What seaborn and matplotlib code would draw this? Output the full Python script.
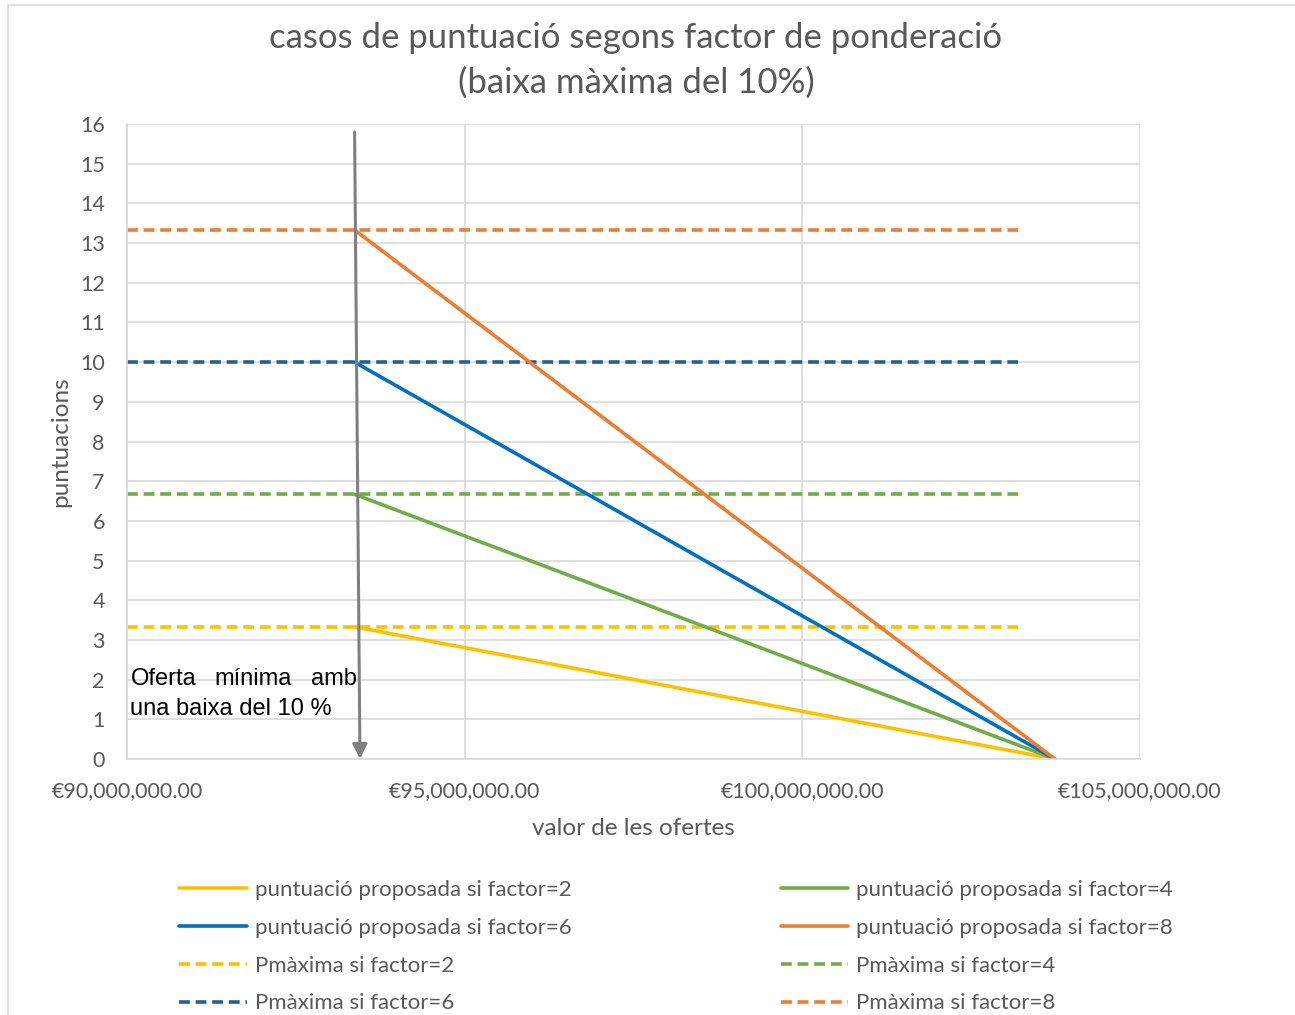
import seaborn as sns
import matplotlib.pyplot as plt
import pandas as pd
from matplotlib.ticker import FuncFormatter, MultipleLocator
from matplotlib.patches import Rectangle

# dades del grafic
factors = [2, 4, 6, 8]
pmax = [3.33, 6.67, 10.0, 13.33]
colors_sol = ['#FFC000', '#70AD47', '#0070C0', '#ED7D31']
colors_dash = ['#FFC000', '#70AD47', '#255E91', '#ED7D31']
oferta_min = 93370000
pressupost = 103740000
x_dash = [90000000, 103200000]
x_ticks = [90000000, 95000000, 100000000, 105000000]

sns.set_style('white')
plt.rcParams['font.family'] = ['Lato', 'DejaVu Sans']

fig = plt.figure(figsize=(12.95, 10.15), dpi=100)
fig.patches.append(Rectangle((8 / 1295, -0.01), 1.02, 1 - 5 / 1015 + 0.01, transform=fig.transFigure,
                             fill=False, edgecolor='#D9D9D9', linewidth=1.2))
ax = fig.add_axes([127 / 1295, 256 / 1015, 1013 / 1295, 635 / 1015])

sol = {}
dash = {}
for f, p, c, cd in zip(factors, pmax, colors_sol, colors_dash):
    df = pd.DataFrame({'x': [oferta_min, pressupost], 'y': [p, 0]})
    sns.lineplot(data=df, x='x', y='y', ax=ax, color=c, linewidth=2.6,
                 label=f'puntuació proposada si factor={f}')
    sol[f] = ax.lines[-1]
    dd = pd.DataFrame({'x': x_dash, 'y': [p, p]})
    sns.lineplot(data=dd, x='x', y='y', ax=ax, color=cd, linewidth=2.6,
                 linestyle=(0, (3, 1.6)), label=f'Pmàxima si factor={f}')
    dash[f] = ax.lines[-1]

# fletxa oferta minima
ax.annotate('', xy=(oferta_min + 80000, 0), xytext=(oferta_min, 15.8),
            arrowprops=dict(arrowstyle='-|>', color='#808080', lw=2.2,
                            mutation_scale=22, shrinkA=0, shrinkB=0))
txt = dict(fontsize=17, color='black', family='Liberation Sans', va='center')
ax.text(90050000, 2.02, 'Oferta', ha='left', **txt)
ax.text(91870000, 2.02, 'mínima', ha='center', **txt)
ax.text(93400000, 2.02, 'amb', ha='right', **txt)
ax.text(90050000, 1.26, 'una baixa del 10 %', ha='left', **txt)

ax.set_xlim(90000000, 105000000)
ax.set_ylim(0, 16)
ax.set_xticks(x_ticks)
ax.xaxis.set_major_formatter(FuncFormatter(lambda v, _: f'€{v:,.2f}'))
ax.yaxis.set_major_locator(MultipleLocator(1))
ax.grid(True, color='#D9D9D9', linewidth=1.2)
ax.set_axisbelow(True)
for s in ['top', 'right']:
    ax.spines[s].set_visible(False)
for s in ['left', 'bottom']:
    ax.spines[s].set_color('#D9D9D9')
    ax.spines[s].set_linewidth(1.2)
ax.tick_params(axis='both', colors='#595959', labelsize=15.5, length=0)
ax.tick_params(axis='y', pad=16)
ax.tick_params(axis='x', pad=16)

ax.set_xlabel('valor de les ofertes', fontsize=17.5, color='#595959', labelpad=12)
ax.set_ylabel('puntuacions', fontsize=17.5, color='#595959', labelpad=6)
fig.text(636 / 1295, 1 - 38 / 1015, 'casos de puntuació segons factor de ponderació',
         fontsize=25, color='#595959', ha='center', va='center')
fig.text(636 / 1295, 1 - 83 / 1015, '(baixa màxima del 10%)',
         fontsize=25, color='#595959', ha='center', va='center')

handles = [sol[2], sol[6], dash[2], dash[6], sol[4], sol[8], dash[4], dash[8]]
ax.legend(handles=handles, labels=[h.get_label() for h in handles], ncol=2,
          loc='upper left', bbox_to_anchor=(168 / 1295, 146 / 1015), bbox_transform=fig.transFigure,
          frameon=False, fontsize=16, labelcolor='#595959', handlelength=3.05,
          handletextpad=0.36, columnspacing=9.4, labelspacing=0.8, borderpad=0)

fig.savefig('out.png', dpi=100)
